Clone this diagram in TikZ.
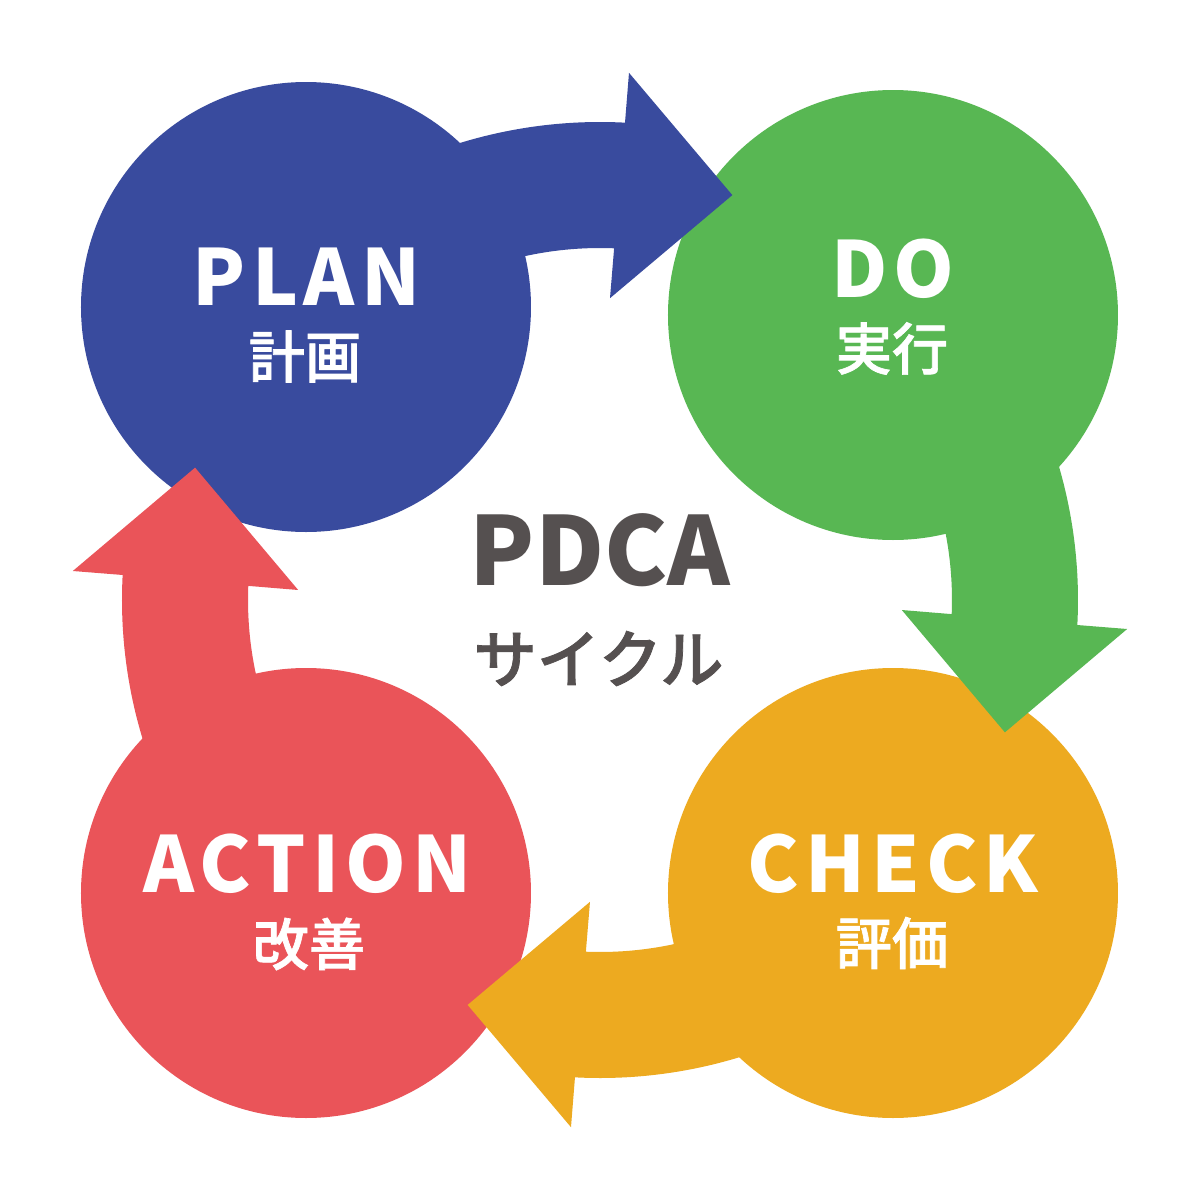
\documentclass[tikz,border=0pt]{standalone}
\usepackage{fontspec}
\newfontfamily\enfont{Noto Sans CJK JP}[LetterSpace=8]
\newfontfamily\midfont{Noto Sans CJK JP}[LetterSpace=0]
\newfontfamily\jpfont{Noto Sans CJK JP Medium}[FakeBold=1.2]
\definecolor{planblue}{HTML}{394B9E}
\definecolor{dogreen}{HTML}{58B753}
\definecolor{checkorange}{HTML}{EDAA20}
\definecolor{actred}{HTML}{EA5459}
\definecolor{titlegray}{HTML}{555050}
\begin{document}
\begin{tikzpicture}[x=1cm, y=1cm,
    phase/.style={circle, minimum size=4.5cm, inner sep=0pt},
    entext/.style={text=white, inner sep=0pt, font=\enfont\bfseries\fontsize{22}{22}\selectfont},
    jptext/.style={text=white, inner sep=0pt, font=\jpfont\fontsize{16}{16}\selectfont}]
      \fill[white] (-6,-6) rectangle (6,6);
      \useasboundingbox (-6,-6) rectangle (6,6);
      %
      \node[phase, fill=planblue]    (plan)   at (-2.94, 2.93) {}; % circles
      \node[phase, fill=dogreen]     (do)     at ( 2.93, 2.85) {};
      \node[phase, fill=checkorange] (check)  at ( 2.93,-2.93) {};
      \node[phase, fill=actred]      (action) at (-2.94,-2.93) {};
      %
      \fill[planblue] (120:4.78) arc[start angle=120, end angle=87, radius=4.78]   % plan -> do
        -- (86.85:5.28) -- (71.9:4.26) -- (88.1:3.02) -- (87.7:3.52)
        arc[start angle=87.7, end angle=120, radius=3.52] -- cycle;
      \fill[dogreen, rotate=-90] (120:4.78) arc[start angle=120, end angle=87, radius=4.78] % do -> check
        -- (86.85:5.28) -- (71.9:4.26) -- (88.1:3.02) -- (87.7:3.52)
        arc[start angle=87.7, end angle=120, radius=3.52] -- cycle;
      \fill[checkorange, rotate=180] (120:4.78) arc[start angle=120, end angle=87, radius=4.78] % check -> action
        -- (86.85:5.28) -- (71.9:4.26) -- (88.1:3.02) -- (87.7:3.52)
        arc[start angle=87.7, end angle=120, radius=3.52] -- cycle;
      \fill[actred, rotate=90] (120:4.78) arc[start angle=120, end angle=87, radius=4.78] % action -> plan
        -- (86.85:5.28) -- (71.9:4.26) -- (88.1:3.02) -- (87.7:3.52)
        arc[start angle=87.7, end angle=120, radius=3.52] -- cycle;
      %
      \node[entext] (plan-en)   at (-2.935, 3.235) {PLAN};        % labels
      \node[jptext] (plan-jp)   at (-2.95, 2.435)  {計画};
      \node[entext] (do-en)     at ( 2.93, 3.31)   {DO};
      \node[jptext] (do-jp)     at ( 2.92, 2.515)  {実行};
      \node[entext] (check-en)  at ( 2.93,-2.635)  {CHECK};
      \node[jptext] (check-jp)  at ( 2.92,-3.43)   {評価};
      \node[entext] (action-en) at (-2.925,-2.64)  {ACTION};
      \node[jptext] (action-jp) at (-2.91,-3.44)   {改善};
      %
      \node[text=titlegray, inner sep=0pt, font=\midfont\bfseries\fontsize{27}{27}\selectfont]
        (title) at (0, 0.5) {PDCA};                               % centre
      \node[text=titlegray, inner sep=0pt, font=\jpfont\fontsize{18}{18}\selectfont]
        (cycle) at (-0.015,-0.585) {サイクル};
    \end{tikzpicture}
\end{document}
